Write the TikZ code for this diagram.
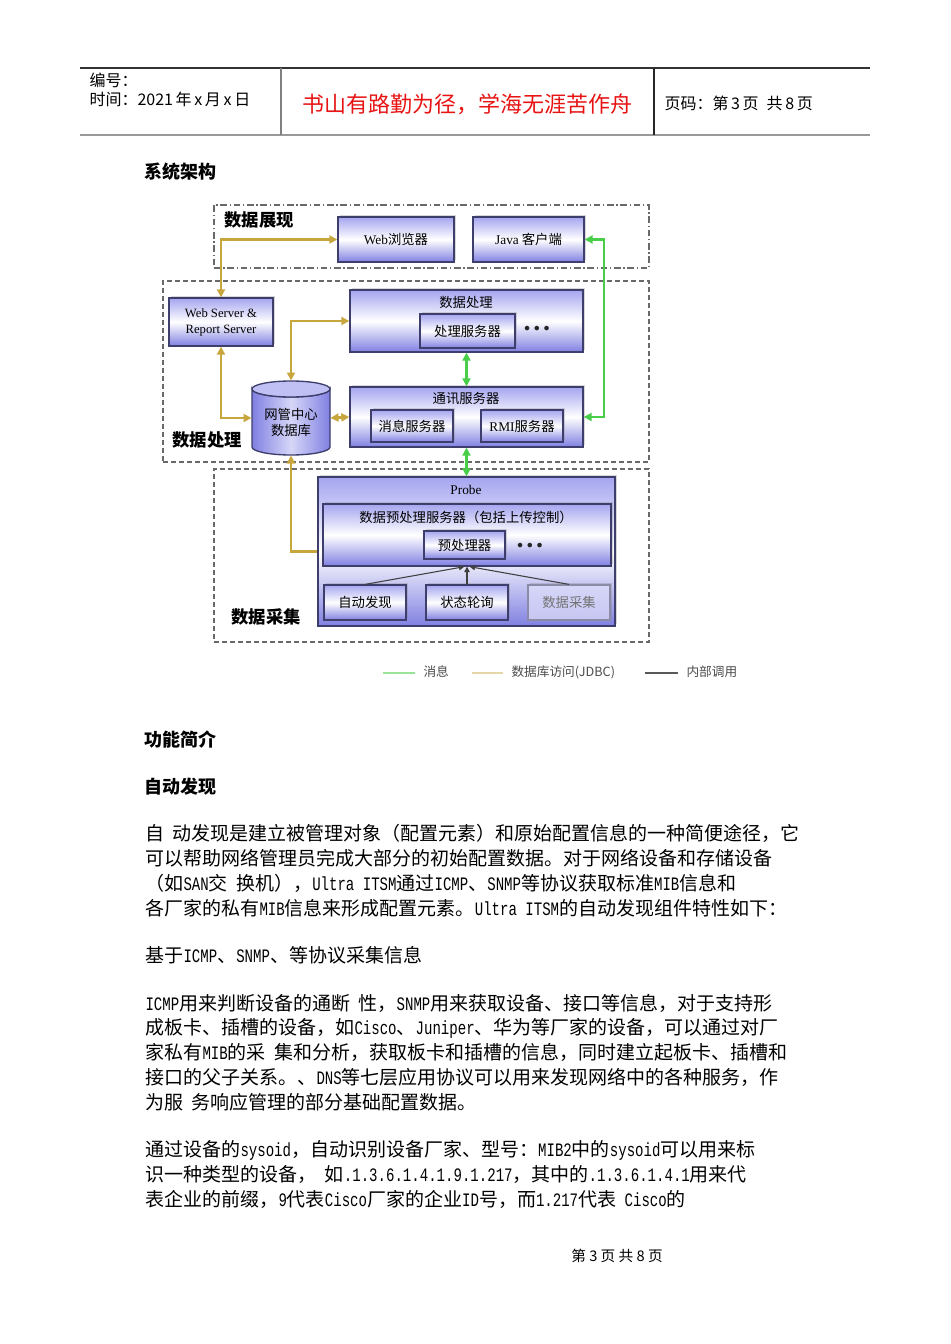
\documentclass[tikz,border=0pt]{standalone}
\usepackage{fontspec}
\setmainfont{Noto Sans CJK SC}
\newfontfamily\latserif{Liberation Serif}
\newfontfamily\latmono{Liberation Mono}[FakeStretch=0.74]
\usetikzlibrary{arrows.meta,fit,shadows}
\newcommand\lat[1]{{\latmono #1}}

\definecolor{boxtop}{RGB}{165,165,240}
\definecolor{boxbot}{RGB}{128,128,226}
\definecolor{boxedge}{RGB}{62,62,108}
\definecolor{grpgray}{RGB}{105,105,105}
\definecolor{dbgold}{RGB}{200,166,62}
\definecolor{msggreen}{RGB}{72,206,72}
\definecolor{mottored}{RGB}{232,20,20}

\tikzset{every picture/.style={line width=0.75pt}}
\tikzset{
  grpbox/.style={draw=grpgray, line width=1pt, dash pattern=on 4pt off 2pt, inner sep=0pt},
  grpshow/.style={grpbox, dash pattern=on 5pt off 2pt on 1pt off 2pt},
  grplbl/.style={anchor=west, font=\fontsize{13}{15}\selectfont\bfseries, inner sep=0pt},
  box/.style={draw=boxedge, line width=1pt, top color=boxtop, bottom color=boxbot, middle color=white,
    inner sep=0pt,
    drop shadow={opacity=0.3, shadow xshift=1.5pt, shadow yshift=1.5pt}},
  inbox/.style={box, line width=0.9pt},
  boxttl/.style={font=\fontsize{10}{12}\selectfont, inner sep=0pt},
  dotsttl/.style={font=\fontsize{3.8}{5}\selectfont, text=black!85, inner sep=0pt},
  dbline/.style={draw=dbgold, line width=2.2pt, {Triangle[length=6pt,width=6pt]}-{Triangle[length=6pt,width=6pt]}},
  msgline/.style={draw=msggreen, line width=2.2pt, {Triangle[length=6pt,width=6pt]}-{Triangle[length=6pt,width=6pt]}},
  callline/.style={draw=black!75, line width=0.8pt, -{Triangle[length=4pt,width=4pt]}},
  legtxt/.style={anchor=west, font=\fontsize{9.5}{11}\selectfont, text=black!70, inner sep=0pt},
  hdrtxt/.style={anchor=west, font=\fontsize{12}{14}\selectfont, inner sep=0pt},
  headtxt/.style={anchor=west, font=\fontsize{13.5}{15}\selectfont\bfseries, inner sep=0pt},
  bodytxt/.style={anchor=west, font=\fontsize{14.25}{16}\selectfont, inner sep=0pt}
}

\begin{document}
\begin{tikzpicture}[x=0.75pt,y=0.75pt,yscale=-1,xscale=1]
\fill[white] (0,0) rectangle (950,1344);
\useasboundingbox (0,0) rectangle (950,1344);

%Header table
\draw[draw=black!80, line width=0.9pt] (80,68) -- (870,68);
\draw[draw=black!40, line width=2pt] (80,135) -- (870,135);
\draw[draw=black!50, line width=1.5pt] (281,68) -- (281,135);
\draw[draw=black!85, line width=0.8pt] (654,68) -- (654,135);
\node[hdrtxt] (docno) at (89,80) {编号：};
\node[hdrtxt] (docdate) at (89,99) {时间：2021\,年\,x\,月\,x\,日};
\node[font=\fontsize{16.5}{18}\selectfont, text=mottored, inner sep=0pt] (motto) at (467,104) {书山有路勤为径，学海无涯苦作舟};
\node[hdrtxt] (pageno) at (664,103) {页码：第\,3\,页\enspace 共\,8\,页};

%Heading
\node[headtxt] (hsys) at (144,172) {系统架构};

%Groups
\node[grpshow, fit={(214,205) (649,268)}] (gshow) {};
\node[grplbl] (gshowlbl) at (224,220) {数据展现};
\node[grpbox, fit={(163,281) (649,462)}] (gproc) {};
\node[grplbl] (gproclbl) at (172,440) {数据处理};
\node[grpbox, fit={(214,469) (649,642)}] (gcoll) {};
\node[grplbl] (gcolllbl) at (231,617) {数据采集};

\coordinate (jbend) at (604,240);
\node[inner sep=0pt, fit={(252,381) (330,455)}] (db) {};

%Presentation
\node[box, fit={(338,217) (454,262)}] (web) {};
\node[boxttl] (webtxt) at (web.center) {{\latserif Web}浏览器};
\node[box, fit={(473,217) (584,262)}] (java) {};
\node[boxttl] (javatxt) at (java.center) {{\latserif Java} 客户端};

%Processing
\node[box, fit={(169,298) (273,346)}] (wsrv) {};
\node[boxttl, align=center, font=\latserif\fontsize{9.5}{12}\selectfont] (wsrvtxt) at (wsrv.center) {Web Server \&\\Report Server};
\node[box, fit={(350,290) (583,352)}] (dproc) {};
\node[boxttl] (dprocttl) at (466,302) {数据处理};
\node[inbox, fit={(420,314) (515,348)}] (psrv) {};
\node[boxttl] (psrvtxt) at (psrv.center) {处理服务器};
\node[dotsttl] (pdots) at (537,329) {●\hspace{3.5pt}●\hspace{3.5pt}●};
\node[box, fit={(350,387) (583,447)}] (comm) {};
\node[boxttl] (commttl) at (466,399) {通讯服务器};
\node[inbox, fit={(371,410) (453,442)}] (msrv) {};
\node[boxttl] (msrvtxt) at (msrv.center) {消息服务器};
\node[inbox, fit={(481,410) (563,442)}] (rmi) {};
\node[boxttl] (rmitxt) at (rmi.center) {{\latserif RMI}服务器};

%Database cylinder
\draw[draw=boxedge, line width=1pt, left color=boxbot, right color=boxbot, middle color=white!55!boxtop]
  (252,389) -- (252,447) arc (180:0:39 and 8) -- (330,389) arc (0:180:39 and 8) -- cycle;
\draw[draw=boxedge, line width=1pt, fill=boxtop!70!white] (291,389) ellipse (39 and 8);
\node[align=center, font=\fontsize{10}{12}\selectfont, inner sep=0pt] (dbtxt) at (291,422) {网管中心\\数据库};

%Collection
\node[box, fit={(318,477) (615,626)}] (probe) {};
\node[boxttl, font=\latserif\fontsize{10}{12}\selectfont] (probettl) at (466,490) {Probe};
\node[box, fit={(323,504) (611,566)}] (prep) {};
\node[boxttl] (prepttl) at (466,517) {数据预处理服务器（包括上传控制）};
\node[inbox, fit={(424,531) (505,559)}] (prer) {};
\node[boxttl] (prertxt) at (prer.center) {预处理器};
\node[dotsttl] (prdots) at (530,546) {●\hspace{3.5pt}●\hspace{3.5pt}●};
\node[inbox, fit={(324,585) (406,620)}] (autod) {};
\node[boxttl] (autodtxt) at (autod.center) {自动发现};
\node[inbox, fit={(426,585) (508,620)}] (poll) {};
\node[boxttl] (polltxt) at (poll.center) {状态轮询};
\node[inbox, fit={(528,585) (610,620)}, top color=boxtop!45!white, bottom color=boxbot!45!white, draw=boxedge!60] (gather) {};
\node[boxttl, text=black!55] (gathertxt) at (gather.center) {数据采集};

%Internal calls
\draw[callline] (autod.north) -- ([xshift=-2pt]prep.south);
\draw[callline] (poll.north) -- (prep.south);
\draw[callline] (gather.north) -- ([xshift=2pt]prep.south);

%JDBC links
\draw[dbline] (wsrv.north) |- (web.west);
\draw[dbline] (wsrv.south) |- (db.west);
\draw[dbline] (db.north) |- (dproc.west);
\draw[dbline] (db.east) -- (comm.west);
\draw[dbline, {Triangle[length=6pt,width=6pt]}-] (db.south) |- (probe.west);

%Message links
\draw[msgline] (dproc.south) -- (comm.north);
\draw[msgline] (java.east) -| (jbend) |- (comm.east);
\draw[msgline] (comm.south) -- (probe.north);

%Legend
\draw[draw=msggreen!55!white, line width=1.6pt] (383,673) -- (415,673);
\node[legtxt] (legmsg) at (423,672) {消息};
\draw[draw=dbgold!45!white, line width=1.6pt] (472,673) -- (503,673);
\node[legtxt] (legdb) at (511,672) {数据库访问(JDBC)};
\draw[draw=black!65, line width=1.3pt] (645,673) -- (678,673);
\node[legtxt] (legcall) at (686,672) {内部调用};

%Text
\node[headtxt] (hfun) at (144,740) {功能简介};
\node[headtxt] (hauto) at (144,787) {自动发现};

\node[bodytxt] (p1a) at (145,833) {自\lat{~}动发现是建立被管理对象（配置元素）和原始配置信息的一种简便途径，它};
\node[bodytxt] (p1b) at (145,858) {可以帮助网络管理员完成大部分的初始配置数据。对于网络设备和存储设备};
\node[bodytxt] (p1c) at (145,883) {（如\lat{SAN}交\lat{~}换机），\lat{Ultra~ITSM}通过\lat{ICMP}、\lat{SNMP}等协议获取标准\lat{MIB}信息和};
\node[bodytxt] (p1d) at (145,908) {各厂家的私有\lat{MIB}信息来形成配置元素。\lat{Ultra~ITSM}的自动发现组件特性如下：};
\node[bodytxt] (p2) at (145,955) {基于\lat{ICMP}、\lat{SNMP}、等协议采集信息};
\node[bodytxt] (p3a) at (145,1003) {\lat{ICMP}用来判断设备的通断\lat{~}性，\lat{SNMP}用来获取设备、接口等信息，对于支持形};
\node[bodytxt] (p3b) at (145,1028) {成板卡、插槽的设备，如\lat{Cisco}、\lat{Juniper}、华为等厂家的设备，可以通过对厂};
\node[bodytxt] (p3c) at (145,1052) {家私有\lat{MIB}的采\lat{~}集和分析，获取板卡和插槽的信息，同时建立起板卡、插槽和};
\node[bodytxt] (p3d) at (145,1077) {接口的父子关系。、\lat{DNS}等七层应用协议可以用来发现网络中的各种服务，作};
\node[bodytxt] (p3e) at (145,1102) {为服\lat{~}务响应管理的部分基础配置数据。};
\node[bodytxt] (p4a) at (145,1150) {通过设备的\lat{sysoid}，自动识别设备厂家、型号：\lat{MIB2}中的\lat{sysoid}可以用来标};
\node[bodytxt] (p4b) at (145,1174) {识一种类型的设备，\lat{~}如\lat{.1.3.6.1.4.1.9.1.217}，其中的\lat{.1.3.6.1.4.1}用来代};
\node[bodytxt] (p4c) at (145,1199) {表企业的前缀，\lat{9}代表\lat{Cisco}厂家的企业\lat{ID}号，而\lat{1.217}代表\lat{~Cisco}的};

%Footer
\node[font=\fontsize{11}{13}\selectfont, inner sep=0pt] (footer) at (617,1256) {第 3 页 共 8 页};
\end{tikzpicture}
\end{document}
